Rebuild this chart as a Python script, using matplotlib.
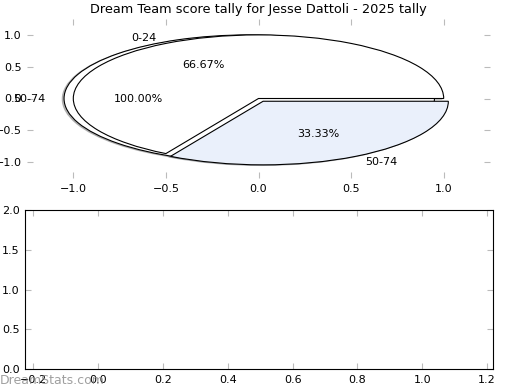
import matplotlib

matplotlib.use("Agg")
import matplotlib.pyplot as plt

title = "Dream Team score tally for Jesse Dattoli - 2025 tally"

# first pie: a single full slice
full_labels = ["50-74"]
full_values = [1]

# second pie: score bands
band_labels = ["0-24", "50-74"]
band_values = [2, 1]
band_colors = ["white", "#eaf0fb"]

pie_ticks = [-1.0, -0.5, 0.0, 0.5, 1.0]
low_xticks = [-0.2, 0.0, 0.2, 0.4, 0.6, 0.8, 1.0, 1.2]
low_yticks = [0.0, 0.5, 1.0, 1.5, 2.0]


def style_ticks(ax):
    ax.tick_params(direction="in", length=4, color="#bbbbbb", labelsize=8,
                   top=True, right=True, pad=4)


def main() -> None:
    fig = plt.figure(figsize=(5.2, 3.9), dpi=100)

    shadow = dict(ox=-0.007, oy=-0.007, shade=0.5)
    ax = fig.add_axes([27 / 520, 1 - 178 / 390, 463 / 520, 159 / 390])
    ax.pie(full_values, labels=full_labels, autopct="%.2f%%", explode=[0.05],
           shadow=shadow, startangle=0, colors=["white"],
           wedgeprops=dict(edgecolor="black", linewidth=0.8),
           textprops=dict(fontsize=8))
    ax.pie(band_values, labels=band_labels, autopct="%.2f%%", explode=[0, 0.05],
           shadow=shadow, startangle=0, colors=band_colors,
           wedgeprops=dict(edgecolor="black", linewidth=0.8),
           textprops=dict(fontsize=8))
    ax.set_aspect("auto")
    ax.set_frame_on(False)
    ax.set_xlim(-1.25, 1.25)
    ax.set_ylim(-1.25, 1.25)
    ax.set_xticks(pie_ticks)
    ax.set_yticks(pie_ticks)
    style_ticks(ax)
    ax.set_title(title, fontsize=9.3, pad=4)

    ax2 = fig.add_axes([25 / 520, 1 - 369 / 390, 468 / 520, 159 / 390])
    ax2.set_xlim(-0.225, 1.218)
    ax2.set_ylim(0, 2)
    ax2.set_xticks(low_xticks)
    ax2.set_yticks(low_yticks)
    style_ticks(ax2)

    fig.text(0.0, 0.008, "DreamStats.com", fontsize=9, color="#888888",
             alpha=0.8, ha="left", va="bottom")

    fig.savefig("out.png", dpi=100)
    plt.close(fig)


if __name__ == "__main__":
    main()
